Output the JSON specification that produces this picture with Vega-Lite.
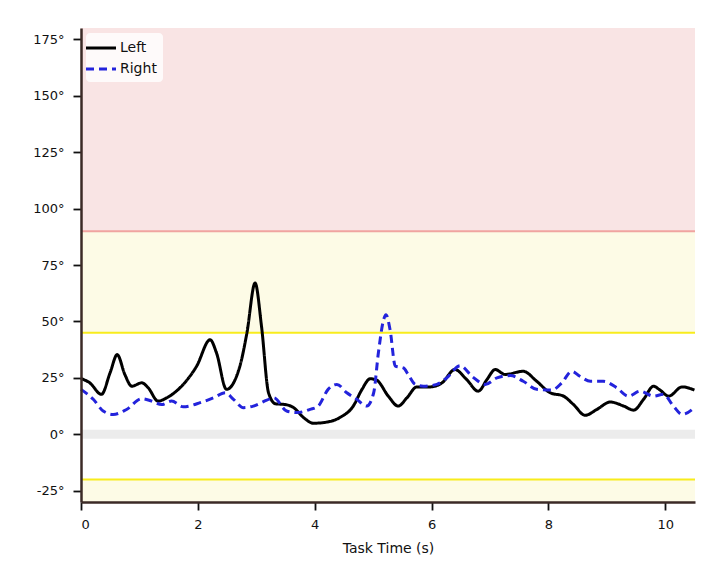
{
  "$schema": "https://vega.github.io/schema/vega-lite/v6.json",
  "width": 614,
  "height": 474,
  "autosize": {"type": "none"},
  "padding": {"left": 81, "top": 28, "right": 25, "bottom": 75},
  "background": "white",
  "config": {
    "font": "DejaVu Sans",
    "view": {"stroke": null},
    "axis": {"grid": false, "labelFont": "DejaVu Sans", "titleFont": "DejaVu Sans", "labelFontSize": 13, "titleFontSize": 14, "titleFontWeight": "normal", "labelColor": "#111111", "titleColor": "#111111", "domainColor": "#3b2a26", "domainWidth": 2.5, "tickColor": "#111111", "tickWidth": 1.8, "tickSize": 8}
  },
  "datasets": {
    "zones": [
      {"zone": "red", "lo": 90, "hi": 180},
      {"zone": "yellow", "lo": 45, "hi": 90},
      {"zone": "yellow", "lo": -30, "hi": -20},
      {"zone": "gray", "lo": -2, "hi": 2}
    ],
    "rules": [
      {"kind": "red", "v": 90},
      {"kind": "yellow", "v": 45},
      {"kind": "yellow", "v": -20}
    ],
    "series": [
      {"side": "Left", "t": 0, "a": 24.7},
      {"side": "Left", "t": 0.15, "a": 22.8},
      {"side": "Left", "t": 0.35, "a": 17.7},
      {"side": "Left", "t": 0.5, "a": 27.4},
      {"side": "Left", "t": 0.62, "a": 35.3},
      {"side": "Left", "t": 0.75, "a": 26.5},
      {"side": "Left", "t": 0.87, "a": 21.3},
      {"side": "Left", "t": 1.04, "a": 22.8},
      {"side": "Left", "t": 1.15, "a": 20.6},
      {"side": "Left", "t": 1.32, "a": 14.7},
      {"side": "Left", "t": 1.47, "a": 16.2},
      {"side": "Left", "t": 1.75, "a": 22.1},
      {"side": "Left", "t": 1.98, "a": 30.2},
      {"side": "Left", "t": 2.21, "a": 41.9},
      {"side": "Left", "t": 2.32, "a": 36},
      {"side": "Left", "t": 2.49, "a": 19.9},
      {"side": "Left", "t": 2.72, "a": 30.2},
      {"side": "Left", "t": 2.84, "a": 44.9},
      {"side": "Left", "t": 2.98, "a": 67},
      {"side": "Left", "t": 3.09, "a": 47.8},
      {"side": "Left", "t": 3.21, "a": 18.4},
      {"side": "Left", "t": 3.33, "a": 13.5},
      {"side": "Left", "t": 3.49, "a": 13.2},
      {"side": "Left", "t": 3.64, "a": 11.8},
      {"side": "Left", "t": 3.81, "a": 7.4},
      {"side": "Left", "t": 3.98, "a": 4.9},
      {"side": "Left", "t": 4.21, "a": 5.4},
      {"side": "Left", "t": 4.43, "a": 7.4},
      {"side": "Left", "t": 4.66, "a": 12.5},
      {"side": "Left", "t": 4.81, "a": 19.9},
      {"side": "Left", "t": 4.95, "a": 24.6},
      {"side": "Left", "t": 5.06, "a": 24},
      {"side": "Left", "t": 5.26, "a": 16.9},
      {"side": "Left", "t": 5.43, "a": 12.5},
      {"side": "Left", "t": 5.58, "a": 16.2},
      {"side": "Left", "t": 5.75, "a": 21},
      {"side": "Left", "t": 5.98, "a": 21},
      {"side": "Left", "t": 6.18, "a": 22.8},
      {"side": "Left", "t": 6.4, "a": 28.7},
      {"side": "Left", "t": 6.6, "a": 24.3},
      {"side": "Left", "t": 6.8, "a": 19.1},
      {"side": "Left", "t": 6.95, "a": 24.3},
      {"side": "Left", "t": 7.09, "a": 28.7},
      {"side": "Left", "t": 7.26, "a": 26.5},
      {"side": "Left", "t": 7.57, "a": 27.9},
      {"side": "Left", "t": 7.8, "a": 23.5},
      {"side": "Left", "t": 8.03, "a": 18.4},
      {"side": "Left", "t": 8.26, "a": 16.9},
      {"side": "Left", "t": 8.43, "a": 13.2},
      {"side": "Left", "t": 8.63, "a": 8.4},
      {"side": "Left", "t": 8.83, "a": 11},
      {"side": "Left", "t": 9.06, "a": 14.3},
      {"side": "Left", "t": 9.29, "a": 12.5},
      {"side": "Left", "t": 9.46, "a": 10.7},
      {"side": "Left", "t": 9.63, "a": 15.5},
      {"side": "Left", "t": 9.8, "a": 21.3},
      {"side": "Left", "t": 9.91, "a": 19.6},
      {"side": "Left", "t": 10.06, "a": 16.9},
      {"side": "Left", "t": 10.29, "a": 21},
      {"side": "Left", "t": 10.5, "a": 19.6},
      {"side": "Right", "t": 0, "a": 19.9},
      {"side": "Right", "t": 0.21, "a": 15.5},
      {"side": "Right", "t": 0.38, "a": 10.3},
      {"side": "Right", "t": 0.55, "a": 8.8},
      {"side": "Right", "t": 0.78, "a": 11},
      {"side": "Right", "t": 1.04, "a": 15.8},
      {"side": "Right", "t": 1.21, "a": 14.7},
      {"side": "Right", "t": 1.38, "a": 13.2},
      {"side": "Right", "t": 1.55, "a": 14.7},
      {"side": "Right", "t": 1.75, "a": 12.2},
      {"side": "Right", "t": 2.04, "a": 14},
      {"side": "Right", "t": 2.27, "a": 16.2},
      {"side": "Right", "t": 2.47, "a": 18.4},
      {"side": "Right", "t": 2.61, "a": 15.5},
      {"side": "Right", "t": 2.78, "a": 11.8},
      {"side": "Right", "t": 2.95, "a": 12.5},
      {"side": "Right", "t": 3.18, "a": 15.1},
      {"side": "Right", "t": 3.3, "a": 16.2},
      {"side": "Right", "t": 3.52, "a": 10.3},
      {"side": "Right", "t": 3.69, "a": 9.6},
      {"side": "Right", "t": 3.92, "a": 11},
      {"side": "Right", "t": 4.06, "a": 12.5},
      {"side": "Right", "t": 4.23, "a": 19.9},
      {"side": "Right", "t": 4.38, "a": 22.1},
      {"side": "Right", "t": 4.55, "a": 18.4},
      {"side": "Right", "t": 4.72, "a": 15.5},
      {"side": "Right", "t": 4.89, "a": 12.5},
      {"side": "Right", "t": 5.01, "a": 18.4},
      {"side": "Right", "t": 5.09, "a": 36},
      {"side": "Right", "t": 5.18, "a": 50.8},
      {"side": "Right", "t": 5.22, "a": 53},
      {"side": "Right", "t": 5.29, "a": 46.4},
      {"side": "Right", "t": 5.38, "a": 30.2},
      {"side": "Right", "t": 5.52, "a": 29.4},
      {"side": "Right", "t": 5.6, "a": 26.5},
      {"side": "Right", "t": 5.72, "a": 22.1},
      {"side": "Right", "t": 5.86, "a": 21.3},
      {"side": "Right", "t": 6.09, "a": 22.1},
      {"side": "Right", "t": 6.26, "a": 25},
      {"side": "Right", "t": 6.49, "a": 30.4},
      {"side": "Right", "t": 6.7, "a": 25.5},
      {"side": "Right", "t": 6.92, "a": 22.1},
      {"side": "Right", "t": 7.12, "a": 25},
      {"side": "Right", "t": 7.35, "a": 26},
      {"side": "Right", "t": 7.57, "a": 23.5},
      {"side": "Right", "t": 7.8, "a": 19.9},
      {"side": "Right", "t": 8.06, "a": 19.6},
      {"side": "Right", "t": 8.23, "a": 22.8},
      {"side": "Right", "t": 8.4, "a": 27.9},
      {"side": "Right", "t": 8.54, "a": 25.7},
      {"side": "Right", "t": 8.72, "a": 23.5},
      {"side": "Right", "t": 8.94, "a": 23.5},
      {"side": "Right", "t": 9.17, "a": 20.6},
      {"side": "Right", "t": 9.37, "a": 16.9},
      {"side": "Right", "t": 9.57, "a": 19.1},
      {"side": "Right", "t": 9.8, "a": 16.9},
      {"side": "Right", "t": 9.97, "a": 17.7},
      {"side": "Right", "t": 10.14, "a": 12.5},
      {"side": "Right", "t": 10.29, "a": 8.8},
      {"side": "Right", "t": 10.5, "a": 11.8}
    ]
  },
  "layer": [
    {
      "data": {"name": "zones"},
      "mark": {"type": "rect"},
      "encoding": {
        "y": {"field": "lo", "type": "quantitative", "scale": {"domain": [-30, 180], "nice": false, "zero": false},
          "axis": {"zindex": 2, "values": [-25, 0, 25, 50, 75, 100, 125, 150, 175], "labelExpr": "datum.value + '°'", "title": null, "labelPadding": 9}},
        "y2": {"field": "hi"},
        "fill": {"field": "zone", "type": "nominal", "scale": {"domain": ["red", "yellow", "gray"], "range": ["#f9e4e4", "#fdfbe6", "#ececec"]}, "legend": null}
      }
    },
    {
      "data": {"name": "rules"},
      "mark": {"type": "rule", "strokeWidth": 2},
      "encoding": {
        "y": {"field": "v", "type": "quantitative"},
        "stroke": {"field": "kind", "type": "nominal", "scale": {"domain": ["red", "yellow"], "range": ["#f0a4a0", "#f8ec1c"]}, "legend": null}
      }
    },
    {
      "data": {"name": "series"},
      "mark": {"type": "line", "strokeWidth": 3, "interpolate": "monotone"},
      "encoding": {
        "x": {"field": "t", "type": "quantitative", "scale": {"domain": [0, 10.51], "nice": false},
          "axis": {"zindex": 2, "values": [0, 2, 4, 6, 8, 10], "title": "Task Time (s)", "titlePadding": 10, "labelPadding": 8}},
        "y": {"field": "a", "type": "quantitative"},
        "color": {"field": "side", "type": "nominal", "scale": {"domain": ["Left", "Right"], "range": ["#000000", "#2323dc"]},
          "legend": {"title": null, "orient": "top-left", "offset": 5, "symbolType": "M-2,0L2,0", "symbolSize": 225, "symbolStrokeWidth": 3, "labelFontSize": 14, "labelFont": "DejaVu Sans", "labelColor": "#111111", "fillColor": "rgba(255,255,255,0.8)", "padding": 6, "cornerRadius": 4, "rowPadding": 5, "labelOffset": 10}},
        "strokeDash": {"field": "side", "type": "nominal", "scale": {"domain": ["Left", "Right"], "range": [[1, 0], [8, 5]]}, "legend": {"title": null}}
      }
    }
  ]
}
